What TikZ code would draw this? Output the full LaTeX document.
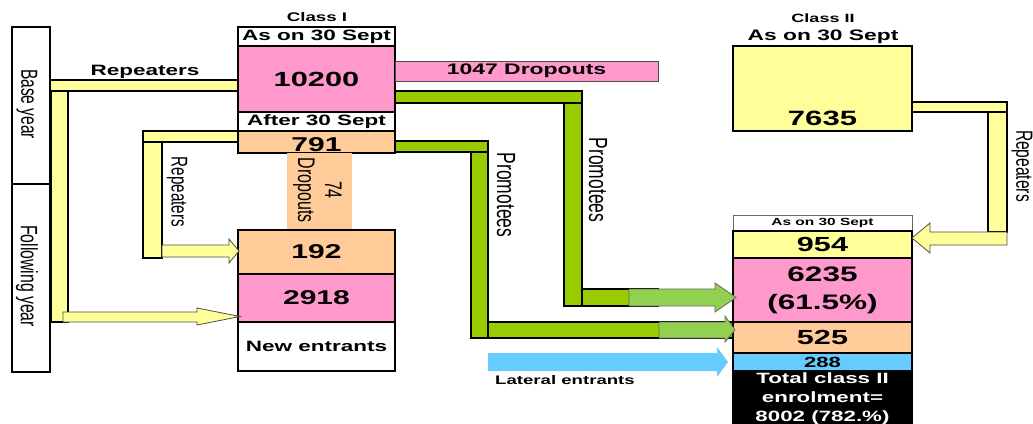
\documentclass[tikz,border=0pt]{standalone}
\usepackage{fontspec}
\setmainfont{Liberation Sans}
\usepackage{graphicx}
\newcommand\hstr[1]{\scalebox{1.5}[1]{#1}}
\newcommand\vstr[1]{\scalebox{1}[1.5]{#1}}
\definecolor{cpink}{HTML}{FF99CC}
\definecolor{cpeach}{HTML}{FFCC99}
\definecolor{cyel}{HTML}{FFFF99}
\definecolor{cgreen}{HTML}{99CC00}
\definecolor{clgreen}{HTML}{92D050}
\definecolor{cblue}{HTML}{66CCFF}
\tikzset{
  box/.style={draw, line width=1.2pt, inner sep=0pt, outer sep=0pt},
  bar/.style={draw, line width=1.1pt},
  lbl/.style={inner sep=0pt, font=\bfseries},
  rlbl/.style={inner sep=0pt, rotate=-90},
}
\begin{document}
\begin{tikzpicture}[x=1pt,y=-1pt]
\useasboundingbox (0,0) rectangle (1033,423);
% ---------- yellow repeater bars (left) ----------
\draw[bar, fill=cyel] (50,80) rectangle (238,91);
\draw[bar, fill=cyel] (51,91) rectangle (68,322);
\draw[bar, fill=cyel] (143,131) rectangle (238,142);
\draw[bar, fill=cyel] (143,142) rectangle (162,258);
% ---------- yellow repeater bars (right) ----------
\draw[bar, fill=cyel] (912,102) rectangle (1007,112);
\draw[bar, fill=cyel] (988,112) rectangle (1007,232);
% ---------- green promotee bars ----------
\draw[bar, fill=cgreen] (395,91) rectangle (582,103);
\draw[bar, fill=cgreen] (564,103) rectangle (582,306);
\draw[bar, fill=cgreen] (582,289) rectangle (658,306);
\draw[bar, fill=cgreen] (395,141) rectangle (488,152);
\draw[bar, fill=cgreen] (471,152) rectangle (488,338);
\draw[bar, fill=cgreen] (488,322) rectangle (733,338);
% ---------- side labels ----------
\node[box, minimum width=38pt, minimum height=157pt] (base) at (31,105.5) {};
\node[box, minimum width=38pt, minimum height=188pt] (follow) at (31,278) {};
\node[rlbl] at (27,104) {\vstr{\fontsize{15.5}{18}\selectfont Base year}};
\node[rlbl] at (27,276) {\vstr{\fontsize{15.8}{18}\selectfont Following year}};
% ---------- Class I ----------
\node[lbl] (c1title) at (317,17) {\hstr{\fontsize{12.5}{14}\selectfont Class I}};
\node[box, fill=white, minimum width=157pt, minimum height=19pt] (c1as) at (316.5,36.5) {\hstr{\bfseries\fontsize{15}{17}\selectfont As on 30 Sept}};
\node[box, fill=cpink, minimum width=157pt, minimum height=66pt] (c1main) at (316.5,79) {\hstr{\bfseries\fontsize{20.5}{24}\selectfont 10200}};
\node[box, fill=white, minimum width=157pt, minimum height=19pt] (c1after) at (316.5,121.5) {\hstr{\bfseries\fontsize{15}{17}\selectfont After 30 Sept}};
\node[box, fill=cpeach, minimum width=157pt, minimum height=22pt] (c1late) at (316.5,142) {};
\node[lbl] at (316.5,145) {\hstr{\fontsize{20}{24}\selectfont 791}};
\node[fill=cpeach, inner sep=0pt, minimum width=65pt, minimum height=76pt] (drop74) at (319.5,191) {};
\node[rlbl] at (317,190) {\vstr{\fontsize{16}{18}\selectfont\begin{tabular}{@{}c@{}}74\\Dropouts\end{tabular}}};
\node[box, fill=cpeach, minimum width=157pt, minimum height=44pt] (c1rep) at (316.5,252) {\hstr{\bfseries\fontsize{20}{24}\selectfont 192}};
\node[box, fill=cpink, minimum width=157pt, minimum height=48pt] (c1old) at (316.5,298) {\hstr{\bfseries\fontsize{20}{24}\selectfont 2918}};
\node[box, fill=white, minimum width=157pt, minimum height=49pt] (c1new) at (316.5,346.5) {\hstr{\bfseries\fontsize{15}{17}\selectfont New entrants}};
\node[draw=black!70, line width=0.8pt, fill=cpink, inner sep=0pt, minimum width=263pt, minimum height=20pt] (drop1047) at (526.5,71) {\hstr{\bfseries\fontsize{15.3}{17}\selectfont 1047 Dropouts}};
% labels on flows
\node[lbl] at (145,72) {\hstr{\fontsize{15}{17}\selectfont Repeaters}};
\node[rlbl] at (177,192) {\vstr{\fontsize{15.2}{18}\selectfont Repeaters}};
\node[rlbl] at (506,195) {\vstr{\fontsize{17.5}{20}\selectfont Promotees}};
\node[rlbl] at (598,180) {\vstr{\fontsize{17.5}{20}\selectfont Promotees}};
\node[rlbl] at (1022,166) {\vstr{\fontsize{15.6}{18}\selectfont Repeaters}};
\node[lbl] at (565,380) {\hstr{\fontsize{12.4}{14}\selectfont Lateral entrants}};
% ---------- Class II ----------
\node[lbl] (c2title) at (823,18) {\hstr{\fontsize{12}{14}\selectfont Class II}};
\node[lbl] (c2astop) at (823,37) {\hstr{\fontsize{15.2}{17}\selectfont As on 30 Sept}};
\node[box, fill=cyel, minimum width=179pt, minimum height=85pt] (c2top) at (822.5,88.5) {};
\node[lbl] at (822.5,118) {\hstr{\fontsize{20.7}{24}\selectfont 7635}};
\node[draw=black!60, line width=0.8pt, fill=white, inner sep=0pt, minimum width=179pt, minimum height=16pt] (c2as) at (822.5,223) {\hstr{\bfseries\fontsize{10.3}{12}\selectfont As on 30 Sept}};
\node[box, fill=cyel, minimum width=179pt, minimum height=27pt] (c2rep) at (822.5,244.5) {\hstr{\bfseries\fontsize{20.4}{24}\selectfont 954}};
\node[box, fill=cpink, minimum width=179pt, minimum height=64pt] (c2prom) at (822.5,290) {\hstr{\bfseries\fontsize{21}{28}\selectfont\begin{tabular}{@{}c@{}}6235\\(61.5\%)\end{tabular}}};
\node[box, fill=cpeach, minimum width=179pt, minimum height=31pt] (c2late) at (822.5,337.5) {\hstr{\bfseries\fontsize{20.4}{24}\selectfont 525}};
\node[box, fill=cblue, minimum width=179pt, minimum height=18pt] (c2lat) at (822.5,362) {\hstr{\bfseries\fontsize{14.7}{17}\selectfont 288}};
\node[box, fill=black, minimum width=179pt, minimum height=60pt, anchor=north] (c2tot) at (822.5,371) {};
\node[lbl, text=white] at (822.5,399) {\hstr{\bfseries\fontsize{14.9}{19}\selectfont\begin{tabular}{@{}c@{}}Total class II\\enrolment=\\8002 (782.\%)\end{tabular}}};
% ---------- arrows ----------
\draw[line width=0.8pt, draw=black!70, fill=cyel] (63,312) -- (197,312) -- (197,308) -- (240,316.5) -- (197,325) -- (197,322) -- (63,322) -- cycle;
\draw[line width=0.8pt, draw=black!70, fill=cyel] (162,245) -- (229,245) -- (229,239) -- (239,251) -- (229,263) -- (229,257) -- (162,257) -- cycle;
\draw[line width=0.8pt, draw=black!70, fill=cyel] (1007,232) -- (930,232) -- (930,223) -- (912,238) -- (930,253) -- (930,245) -- (1007,245) -- cycle;
\draw[line width=0.8pt, draw=black!60, fill=clgreen] (629,289) -- (715,289) -- (715,283) -- (736,297.5) -- (715,312) -- (715,306) -- (629,306) -- cycle;
\draw[line width=0.8pt, draw=black!60, fill=clgreen] (659,322) -- (725,322) -- (725,316) -- (735,330) -- (725,342) -- (725,338) -- (659,338) -- cycle;
\fill[cblue] (488,353) -- (717,353) -- (717,347) -- (728,362) -- (717,377) -- (717,371) -- (488,371) -- cycle;
\end{tikzpicture}
\end{document}
